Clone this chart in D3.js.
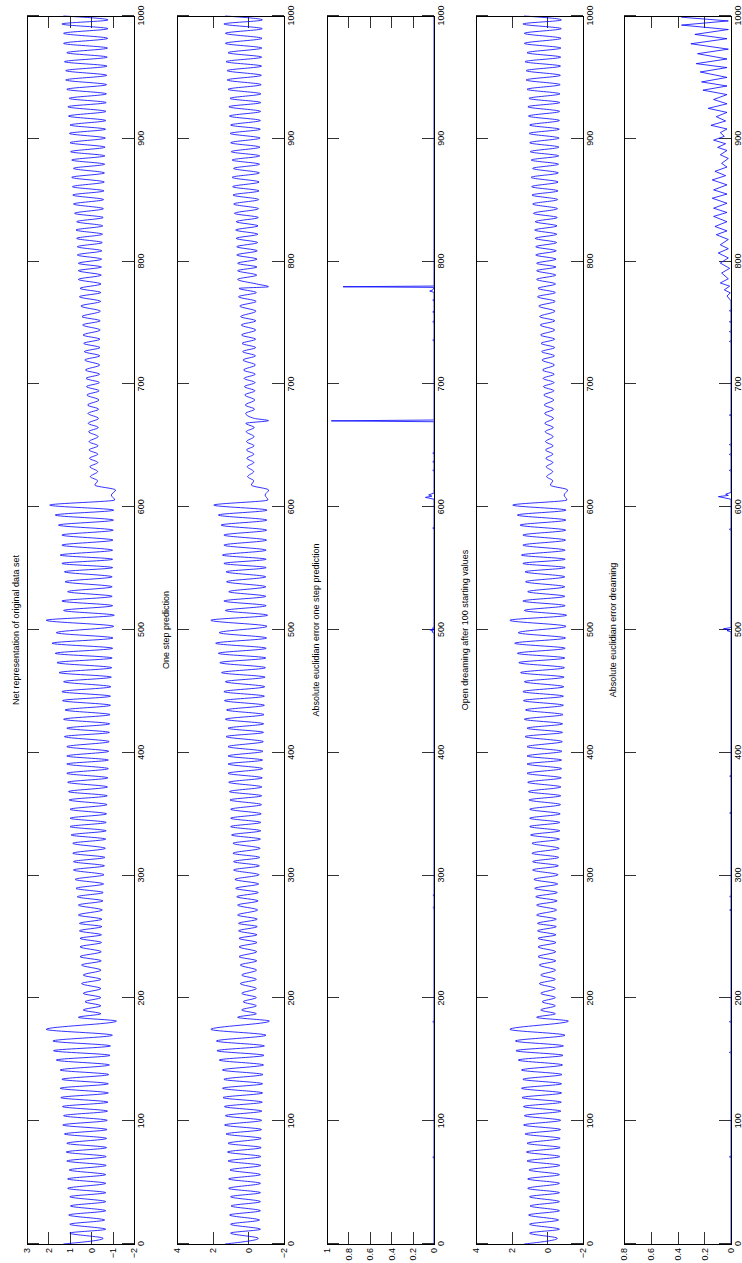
<!DOCTYPE html>
<html>
<head>
<meta charset="utf-8">
<script src="https://cdn.jsdelivr.net/npm/d3@7"></script>
<style>
  body { margin: 0; background: #fff; }
  svg { display: block; }
  text { font-family: "Liberation Sans", Arial, Helvetica, sans-serif; fill: #000; }
</style>
</head>
<body>
<svg id="fig" width="742" height="1263"></svg>
<script>
// ---- data: turning points [sample, value] of the net representation ----
const netTurns = [
  [0,1.30],[4.6,-0.56],[8.9,1.00],[12.0,-0.68],[16.1,1.00],[19.5,-0.63],[23.6,1.05],[27.1,-0.68],
  [31.0,0.97],[34.5,-0.68],[38.5,1.00],[41.8,-0.68],[45.3,1.10],[49.4,-0.68],[53.0,1.10],[56.5,-0.68],
  [60.3,1.03],[64.0,-0.70],[67.6,1.14],[71.2,-0.70],[74.9,1.17],[78.5,-0.72],[82.0,1.14],[86.0,-0.72],
  [89.6,1.25],[93.2,-0.74],[96.9,1.33],[100.7,-0.75],[104.5,1.29],[108.2,-0.76],[111.9,1.34],[115.5,-0.78],
  [119.2,1.42],[123.0,-0.80],[126.8,1.45],[130.5,-0.80],[134.1,1.37],[138.0,-0.82],[141.7,1.45],[145.8,-0.85],
  [149.8,1.63],[153.6,-0.88],[157.4,1.76],[161.3,-0.90],[165.3,1.79],[170.0,-0.99],[174.8,2.10],[181.5,-1.18],
  [184.6,0.60],[187.5,-0.45],[190.6,0.37],[194.0,-0.45],[197.3,0.29],[200.7,-0.45],[204.1,0.37],[208.0,-0.45],
  [212.1,0.45],[215.5,-0.45],[219.0,0.37],[223.0,-0.46],[227.2,0.45],[230.6,-0.47],[234.0,0.52],[238.0,-0.47],
  [242.0,0.52],[245.5,-0.48],[248.9,0.52],[251.8,-0.48],[255.0,0.55],[258.5,-0.50],[261.1,0.55],[264.5,-0.50],
  [267.9,0.60],[272.0,-0.52],[276.0,0.60],[279.4,-0.55],[282.8,0.65],[286.2,-0.56],[289.6,0.71],[293.2,-0.58],
  [296.9,0.75],[300.7,-0.60],[304.6,0.83],[308.0,-0.62],[311.4,0.83],[314.8,-0.64],[318.2,0.86],[322.2,-0.66],
  [326.3,0.86],[329.7,-0.68],[333.1,0.94],[336.5,-0.70],[339.9,0.99],[343.3,-0.70],[346.7,0.99],[350.3,-0.72],
  [354.0,0.99],[357.8,-0.74],[361.6,1.03],[365.0,-0.75],[368.4,1.06],[372.2,-0.76],[376.0,1.10],[379.6,-0.78],
  [383.3,1.14],[387.1,-0.80],[390.9,1.14],[394.1,-0.80],[397.4,1.14],[401.2,-0.82],[405.0,1.14],[409.1,-0.84],
  [413.2,1.25],[416.6,-0.85],[420.0,1.14],[423.6,-0.86],[427.3,1.29],[431.1,-0.88],[434.9,1.22],[438.7,-0.90],
  [442.5,1.34],[446.1,-0.90],[449.8,1.37],[453.8,-0.92],[457.9,1.29],[461.6,-0.94],[465.3,1.50],[469.3,-0.96],
  [473.4,1.60],[477.2,-0.98],[481.0,1.68],[485.1,-1.00],[489.2,1.83],[493.5,-1.02],[497.8,1.63],[503.0,-1.05],
  [507.9,2.10],[512.0,-1.08],[515.9,1.29],[519.8,-1.00],[523.6,1.37],[527.4,-0.98],[531.2,1.10],[535.2,-0.98],
  [539.3,1.22],[543.3,-0.98],[547.4,1.25],[550.8,-1.00],[554.2,1.37],[557.6,-1.00],[561.0,1.45],[565.0,-1.00],
  [569.1,1.37],[573.2,-1.02],[577.3,1.37],[581.3,-1.03],[585.4,1.53],[589.5,-1.04],[593.6,1.68],[597.6,-1.05],
  [601.7,1.94],[605.9,-1.10],[609.9,-0.94],[614.0,-1.14],[618.0,-0.17],[621.5,-0.30],[624.9,0.04],[629.0,-0.30],
  [633.0,0.06],[636.4,-0.31],[639.8,0.08],[643.2,-0.31],[646.6,0.10],[650.0,-0.32],[653.4,0.10],[657.5,-0.32],
  [661.5,0.12],[664.9,-0.33],[668.3,0.14],[672.3,-0.34],[676.4,0.15],[679.8,-0.35],[683.2,0.17],[687.3,-0.36],
  [691.4,0.20],[694.8,-0.37],[698.2,0.22],[701.5,-0.38],[704.9,0.24],[708.3,-0.39],[711.7,0.27],[715.8,-0.40],
  [719.9,0.30],[723.3,-0.40],[726.7,0.32],[730.0,-0.41],[733.4,0.35],[736.8,-0.41],[740.2,0.38],[744.3,-0.42],
  [748.4,0.40],[751.8,-0.42],[755.2,0.43],[759.6,-0.43],[763.8,0.48],[767.6,-0.44],[771.4,0.55],[774.8,-0.45],
  [778.2,0.52],[781.8,-0.46],[785.5,0.60],[789.0,-0.47],[792.6,0.60],[795.6,-0.48],[798.6,0.60],[802.0,-0.49],
  [805.4,0.65],[808.8,-0.50],[812.1,0.65],[815.5,-0.52],[818.9,0.68],[822.3,-0.53],[825.7,0.71],[829.1,-0.54],
  [832.5,0.68],[835.9,-0.56],[839.3,0.78],[843.1,-0.57],[846.9,0.83],[850.5,-0.58],[854.2,0.86],[857.6,-0.60],
  [861.0,0.88],[864.8,-0.61],[868.6,0.91],[872.2,-0.62],[875.9,0.83],[879.3,-0.63],[882.7,0.91],[886.1,-0.64],
  [889.5,0.96],[893.2,-0.65],[896.8,0.99],[900.6,-0.66],[904.4,1.02],[907.8,-0.67],[911.2,0.99],[914.9,-0.68],
  [918.5,1.06],[922.3,-0.69],[926.1,1.09],[929.5,-0.70],[932.9,1.03],[936.6,-0.71],[940.3,1.14],[944.1,-0.72],
  [947.9,1.19],[951.7,-0.73],[955.5,1.19],[959.2,-0.74],[962.8,1.25],[966.5,-0.75],[970.1,1.14],[973.9,-0.76],
  [977.7,1.29],[981.8,-0.77],[985.9,1.29],[989.7,-0.78],[993.5,1.37],[996.8,-0.79],[1000.0,1.30]
];

// one-step prediction departs from the net representation at two samples
const predGlitches = [[670.5,-1.13],[779.5,-1.13]];

// absolute euclidian error of the one step prediction
const errOneStep = [
  [0,0],[70,0],[70.6,0.012],[71.2,0],[180.4,0],[181,0.012],[181.6,0],[273.4,0],[274,0.01],[274.6,0],
  [283.4,0],[284,0.01],[284.6,0],[497.5,0],[498.5,0.02],[499.3,0.005],[500,0.035],[500.8,0],[501.5,0.015],[502.5,0],
  [582.4,0],[583,0.012],[583.6,0],[606.5,0],[608,0.08],[609,0.02],[610,0.05],[611.5,0],
  [629.4,0],[630,0.012],[630.6,0],[636.4,0],[637,0.012],[637.6,0],[643.4,0],[644,0.012],[644.6,0],
  [669.6,0],[670.3,0.96],[671,0],[735.4,0],[736,0.012],[736.6,0],[750.4,0],[751,0.012],[751.6,0],
  [758.4,0],[759,0.012],[759.6,0],[768,0],[768.6,0.012],[769.2,0],[775,0],[776,0.04],[777,0.01],
  [779,0],[779.5,0.85],[780.1,0],[1000,0]
];

// absolute euclidian error of the open dreaming run
const errDream = [
  [0,0],[70.4,0],[71,0.012],[71.6,0],[155.4,0],[156,0.012],[156.6,0],[180.4,0],[181,0.012],[181.6,0],
  [271.4,0],[272,0.01],[272.6,0],[282.4,0],[283,0.01],[283.6,0],[350.4,0],[351,0.01],[351.6,0],
  [380.4,0],[381,0.01],[381.6,0],[498.5,0],[499.5,0.03],[500.2,0.01],[501,0.056],[502,0],
  [581.4,0],[582,0.012],[582.6,0],[606.5,0],[608.6,0.094],[609.6,0.02],[610.6,0.04],[612,0],
  [629.4,0],[630,0.012],[630.6,0],[642.4,0],[643,0.012],[643.6,0],[650.4,0],[651,0.012],[651.6,0],
  [674.4,0],[675,0.012],[675.6,0],[734.4,0],[735,0.012],[735.6,0],[742.4,0],[743,0.012],[743.6,0],
  [750.4,0],[751,0.012],[751.6,0],[759.4,0],[760,0.012],[760.6,0],[768,0],
  [772,0.03],[774.5,0.005],[777,0.05],[780,0.01],[782.6,0.08],[786,0.02],[790.7,0.07],[794.5,0.01],
  [798.8,0.08],[803,0.02],[807,0.095],[810.5,0.02],[813.7,0.08],[818,0.02],[821.9,0.11],[825,0.03],
  [828.6,0.12],[832.5,0.03],[836.8,0.13],[840,0.03],[843.5,0.13],[847.5,0.03],[851.6,0.14],[855,0.03],
  [858.4,0.13],[862.5,0.03],[866.5,0.14],[870,0.04],[873.5,0.12],[877,0.03],[880,0.07],[884,0.02],
  [887,0.08],[890.5,0.03],[893,0.10],[896,0.04],[898.9,0.13],[902,0.05],[905,0.08],[908,0.03],
  [911,0.15],[914.5,0.04],[918,0.11],[921.5,0.03],[924.8,0.17],[928.5,0.03],[932,0.13],[936,0.03],
  [939.6,0.21],[943,0.03],[946.3,0.22],[950,0.03],[954.4,0.23],[958,0.03],[961.2,0.26],[965,0.03],
  [969.3,0.25],[973,0.02],[977.4,0.30],[981.5,0.03],[985,0.27],[989,0.02],[992.6,0.37],[996,0.02],
  [999,0.37],[1000,0.37]
];

// axis ticks
const sampleTicks = [0,100,200,300,400,500,600,700,800,900,1000];
const ticksNet   = [-2,-1,0,1,2,3];
const ticksPred  = [-2,0,2,4];
const ticksErr1  = [0,0.2,0.4,0.6,0.8,1];
const ticksErr2  = [0,0.2,0.4,0.6,0.8];

const titles = [
  "Net representation of original data set",
  "One step prediction",
  "Absolute euclidian error one step prediction",
  "Open dreaming after 100 starting values",
  "Absolute euclidian error dreaming"
];

// ---- figure: drawn landscape, turned a quarter turn counter-clockwise ----
const FW = 1263, FH = 742;
const svg = d3.select("#fig");
const fig = svg.append("g").attr("transform", `translate(0,${FW}) rotate(-90)`);

const axLeft = 19, axRight = 1247, axH = 107;
const tops = [27, 177, 327, 476, 624];
const x = d3.scaleLinear().domain([0, 1000]).range([axLeft, axRight]);

const mergeSorted = (a, b) => a.concat(b).sort((p, q) => p[0] - q[0]);

const panels = [
  { data: netTurns, domain: [-2, 3], ticks: ticksNet, curve: d3.curveMonotoneX },
  { data: mergeSorted(netTurns, predGlitches), domain: [-2, 4], ticks: ticksPred, curve: d3.curveMonotoneX },
  { data: errOneStep, domain: [0, 1], ticks: ticksErr1, curve: d3.curveLinear },
  { data: netTurns, domain: [-2, 4], ticks: ticksPred, curve: d3.curveMonotoneX },
  { data: errDream, domain: [0, 0.8], ticks: ticksErr2, curve: d3.curveLinear }
];

const fmt = d => {
  const s = String(Math.round(d * 10) / 10);
  return s.replace("-", "\u2212");
};

const TICK = 12;

panels.forEach((p, i) => {
  const top = tops[i];
  const y = d3.scaleLinear().domain(p.domain).range([top + axH, top]);
  const g = fig.append("g");

  // mirrored inward ticks on all four sides
  const bottomAxis = g.append("g").attr("transform", `translate(0,${top + axH})`)
    .call(d3.axisBottom(x).tickValues(sampleTicks).tickSize(-TICK).tickPadding(4).tickFormat(d3.format("d")));
  const topAxis = g.append("g").attr("transform", `translate(0,${top})`)
    .call(d3.axisTop(x).tickValues(sampleTicks).tickSize(-TICK).tickFormat(""));
  const leftAxis = g.append("g").attr("transform", `translate(${axLeft},0)`)
    .call(d3.axisLeft(y).tickValues(p.ticks).tickSize(-TICK).tickPadding(4).tickFormat(fmt));
  const rightAxis = g.append("g").attr("transform", `translate(${axRight},0)`)
    .call(d3.axisRight(y).tickValues(p.ticks).tickSize(-TICK).tickFormat(""));

  [bottomAxis, topAxis, leftAxis, rightAxis].forEach(a => {
    a.select(".domain").remove();
    a.selectAll("line").attr("stroke", "#333").attr("stroke-width", 1).attr("shape-rendering", "crispEdges");
    a.selectAll("text").attr("font-size", 9).attr("font-family", "Liberation Sans, Arial, sans-serif").attr("fill", "#000");
  });

  // data line
  const line = d3.line().x(d => x(d[0])).y(d => y(d[1])).curve(p.curve);
  g.append("path")
    .datum(p.data)
    .attr("fill", "none")
    .attr("stroke", "#0000ff")
    .attr("stroke-width", 0.8)
    .attr("stroke-linejoin", "round")
    .attr("d", line);

  // axes box
  g.append("rect")
    .attr("x", axLeft).attr("y", top)
    .attr("width", axRight - axLeft).attr("height", axH)
    .attr("fill", "none").attr("stroke", "#000").attr("stroke-width", 1)
    .attr("shape-rendering", "crispEdges");

  // title
  g.append("text")
    .attr("x", (axLeft + axRight) / 2)
    .attr("y", top - 8)
    .attr("text-anchor", "middle")
    .attr("font-size", 9)
    .text(titles[i]);
});
</script>
</body>
</html>
